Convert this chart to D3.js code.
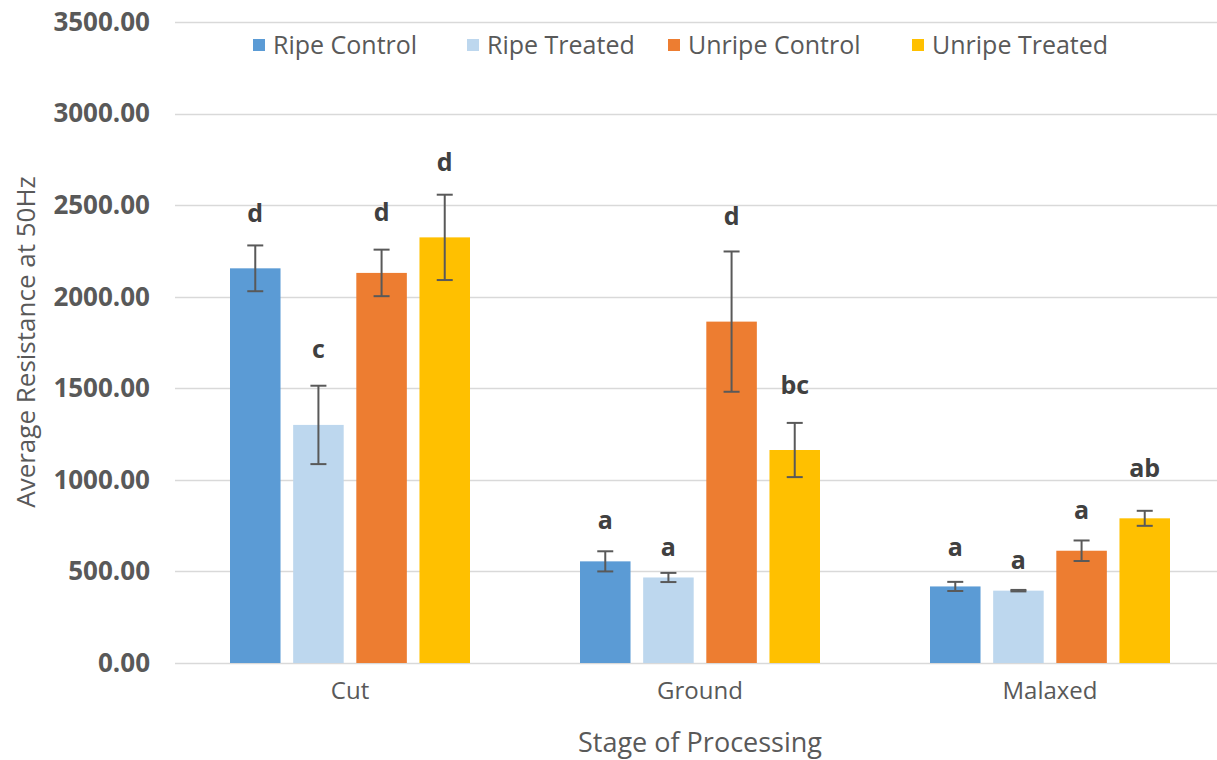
<!DOCTYPE html>
<html>
<head>
<meta charset="utf-8">
<script src="https://cdn.jsdelivr.net/npm/d3@7"></script>
<style>
  body { margin: 0; background: #fff; }
  text { font-family: "Open Sans", sans-serif; }
</style>
</head>
<body>
<div id="chart"></div>
<script>
var stages = ["Cut", "Ground", "Malaxed"];
var series = ["Ripe Control", "Ripe Treated", "Unripe Control", "Unripe Treated"];
var colors = ["#5B9BD5", "#BDD7EE", "#ED7D31", "#FFC000"];
var yTicks = [0, 500, 1000, 1500, 2000, 2500, 3000, 3500];

// mean values, one array per series (Cut, Ground, Malaxed)
var ripeControl = [2155, 555, 418];
var ripeTreated = [1300, 467, 395];
var unripeControl = [2130, 1864, 613];
var unripeTreated = [2324, 1163, 790];

// error (+/-)
var ripeControlErr = [125, 55, 25];
var ripeTreatedErr = [214, 25, 4];
var unripeControlErr = [127, 383, 56];
var unripeTreatedErr = [233, 148, 41];

// significance letters and the value where each sits
var ripeControlSig = ["d", "a", "a"];
var ripeTreatedSig = ["c", "a", "a"];
var unripeControlSig = ["d", "d", "a"];
var unripeTreatedSig = ["d", "bc", "ab"];
var ripeControlSigAt = [2406, 732, 586];
var ripeTreatedSigAt = [1667, 586, 513];
var unripeControlSigAt = [2415, 2392, 786];
var unripeTreatedSigAt = [2688, 1469, 1017];

var values = [ripeControl, ripeTreated, unripeControl, unripeTreated];
var errors = [ripeControlErr, ripeTreatedErr, unripeControlErr, unripeTreatedErr];
var sigs = [ripeControlSig, ripeTreatedSig, unripeControlSig, unripeTreatedSig];
var sigAt = [ripeControlSigAt, ripeTreatedSigAt, unripeControlSigAt, unripeTreatedSigAt];

var w = 1217, h = 760;
var margin = {left: 175, right: -8, top: 22, bottom: 97};

var svg = d3.select("#chart").append("svg")
    .attr("width", w)
    .attr("height", h);

var x = d3.scaleBand()
    .domain(stages)
    .range([margin.left, w - margin.right]);

var xInner = d3.scaleBand()
    .domain(series)
    .range([55, 295])
    .paddingInner(0.2)
    .paddingOuter(0);

var y = d3.scaleLinear()
    .domain([0, 3500])
    .range([h - margin.bottom, margin.top]);

// gridlines
svg.append("g")
    .selectAll("line")
    .data(yTicks)
    .enter()
    .append("line")
    .attr("x1", margin.left)
    .attr("x2", w)
    .attr("y1", function(d) { return Math.round(y(d)) + 0.5; })
    .attr("y2", function(d) { return Math.round(y(d)) + 0.5; })
    .attr("stroke", "#D9D9D9")
    .attr("stroke-width", 1.5);

// y axis labels
var yAxis = d3.axisLeft(y)
    .tickValues(yTicks)
    .tickSize(0)
    .tickPadding(25)
    .tickFormat(d3.format(".2f"));

var gy = svg.append("g")
    .attr("transform", "translate(" + margin.left + ",0)")
    .call(yAxis);
gy.select(".domain").remove();
gy.selectAll("text")
    .attr("fill", "#595959")
    .style("font-size", "26px")
    .style("font-weight", "bold")
    .style("font-family", "'Open Sans', sans-serif");

// x axis labels
var xAxis = d3.axisBottom(x).tickSize(0).tickPadding(19);
var gx = svg.append("g")
    .attr("transform", "translate(0," + (h - margin.bottom) + ")")
    .call(xAxis);
gx.select(".domain").remove();
gx.selectAll("text")
    .attr("fill", "#595959")
    .style("font-size", "24px")
    .style("font-family", "'Open Sans', sans-serif");

// bars
var groups = svg.selectAll(".stage")
    .data(stages)
    .enter()
    .append("g")
    .attr("class", "stage")
    .attr("transform", function(d) { return "translate(" + x(d) + ",0)"; });

groups.each(function(stage, i) {
    var g = d3.select(this);
    var rows = series.map(function(s, k) {
        return {
            name: s,
            color: colors[k],
            value: values[k][i],
            err: errors[k][i],
            sig: sigs[k][i],
            sigAt: sigAt[k][i]
        };
    });

    g.selectAll("rect")
        .data(rows)
        .enter()
        .append("rect")
        .attr("x", function(d) { return xInner(d.name); })
        .attr("width", xInner.bandwidth())
        .attr("y", function(d) { return y(d.value); })
        .attr("height", function(d) { return y(0) - y(d.value); })
        .attr("fill", function(d) { return d.color; });

    var eb = g.selectAll(".err")
        .data(rows)
        .enter()
        .append("g")
        .attr("class", "err")
        .attr("stroke", "#595959")
        .attr("stroke-width", 2);
    var cx = function(d) { return xInner(d.name) + xInner.bandwidth() / 2; };
    eb.append("line")
        .attr("x1", cx).attr("x2", cx)
        .attr("y1", function(d) { return y(d.value + d.err); })
        .attr("y2", function(d) { return y(d.value - d.err); });
    eb.append("line")
        .attr("x1", function(d) { return cx(d) - 8; })
        .attr("x2", function(d) { return cx(d) + 8; })
        .attr("y1", function(d) { return y(d.value + d.err); })
        .attr("y2", function(d) { return y(d.value + d.err); });
    eb.append("line")
        .attr("x1", function(d) { return cx(d) - 8; })
        .attr("x2", function(d) { return cx(d) + 8; })
        .attr("y1", function(d) { return y(d.value - d.err); })
        .attr("y2", function(d) { return y(d.value - d.err); });

    g.selectAll(".sig")
        .data(rows)
        .enter()
        .append("text")
        .attr("class", "sig")
        .attr("x", cx)
        .attr("y", function(d) { return y(d.sigAt); })
        .attr("text-anchor", "middle")
        .attr("fill", "#404040")
        .style("font-size", "25px")
        .style("font-weight", "bold")
        .text(function(d) { return d.sig; });
});

// legend
var legendX = [253, 467, 668, 912];
var legend = svg.append("g").attr("class", "legend");
var item = legend.selectAll("g")
    .data(series)
    .enter()
    .append("g")
    .attr("transform", function(d, i) { return "translate(" + legendX[i] + ",39)"; });
item.append("rect")
    .attr("width", 12)
    .attr("height", 12)
    .attr("fill", function(d, i) { return colors[i]; });
item.append("text")
    .attr("x", 20)
    .attr("y", 15)
    .attr("fill", "#595959")
    .style("font-size", "25px")
    .text(function(d) { return d; });

// axis titles
svg.append("text")
    .attr("x", x("Ground") + x.bandwidth() / 2)
    .attr("y", 752)
    .attr("text-anchor", "middle")
    .attr("fill", "#595959")
    .style("font-size", "27px")
    .text("Stage of Processing");

svg.append("text")
    .attr("transform", "translate(35," + 342 + ") rotate(-90)")
    .attr("text-anchor", "middle")
    .attr("fill", "#595959")
    .style("font-size", "26px")
    .text("Average Resistance at 50Hz");
</script>
</body>
</html>
